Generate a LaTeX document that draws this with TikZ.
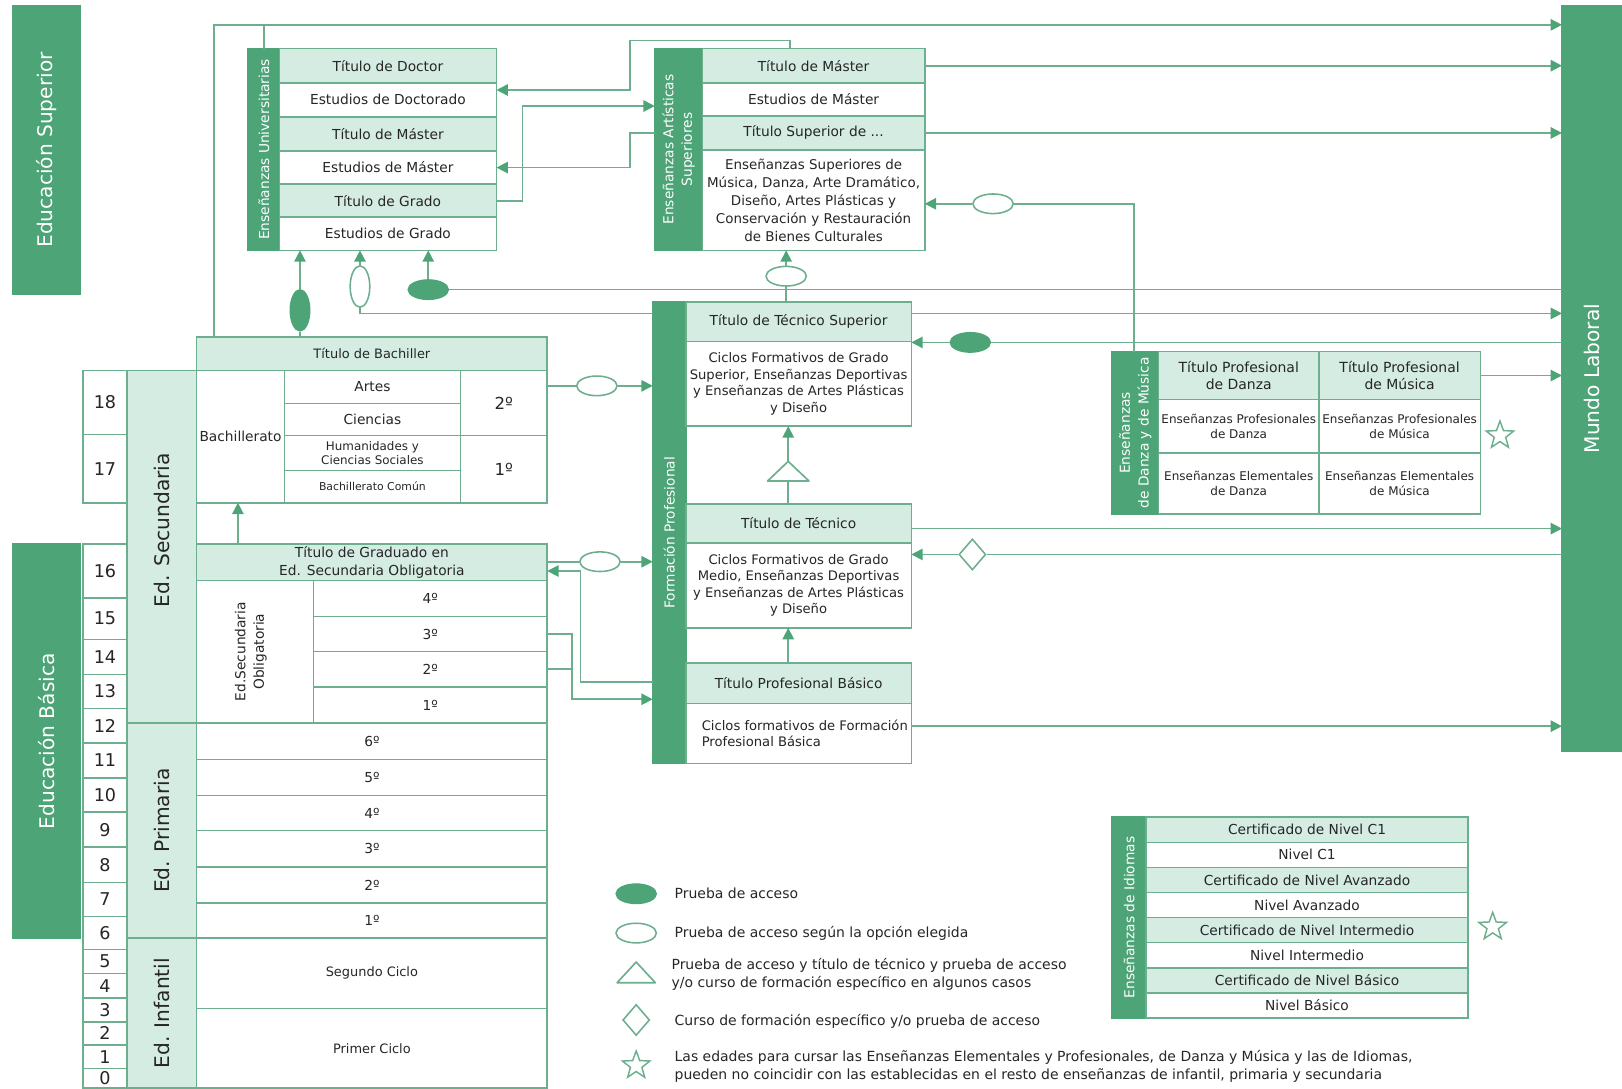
\documentclass[tikz,border=0pt]{standalone}
\usepackage{fontspec}
\setmainfont{DejaVu Sans}
\usetikzlibrary{shapes.geometric,arrows.meta,calc}
\definecolor{dkg}{HTML}{4DA476}
\definecolor{ltg}{HTML}{D4ECE1}
\definecolor{lnc}{HTML}{6CAE8D}
\definecolor{txc}{HTML}{262626}
\newcommand\cellbox[8]{%
  \pgfmathsetmacro\mycw{#4-#2}%
  \pgfmathsetmacro\mych{#5-#3}%
  \node[cell,#6,minimum width=\mycw pt,minimum height=\mych pt] (#1) at (#2,#3) {};
  \node[txt,#7] (#1t) at (#1.center) {#8};}
\tikzset{
  cell/.style={draw=lnc, line width=1.5pt, inner sep=0pt, outer sep=0pt, anchor=north west, fill=white},
  lt/.style={fill=ltg},
  dk/.style={fill=dkg, draw=dkg},
  txt/.style={inner sep=0pt, align=center, text=txc},
  wt/.style={text=white},
  vt/.style={rotate=90},
  f13/.style={font=\fontsize{13.3}{17}\selectfont},
  f12/.style={font=\fontsize{12.5}{15}\selectfont},
  f115/.style={font=\fontsize{11.5}{14}\selectfont},
  f105/.style={font=\fontsize{10.5}{13}\selectfont},
  f16/.style={font=\fontsize{16}{19}\selectfont},
  fed/.style={font=\fontsize{19.5}{22}\selectfont},
  fage/.style={font=\fontsize{17}{20}\selectfont},
  fbar/.style={font=\fontsize{19.5}{22}\selectfont},
  ffp/.style={font=\fontsize{12.7}{16}\selectfont},
  fas/.style={font=\fontsize{13}{17.3}\selectfont},
  fdh/.style={font=\fontsize{13.5}{17}\selectfont},
  fdr/.style={font=\fontsize{11.6}{15}\selectfont},
  fid/.style={font=\fontsize{13.3}{16}\selectfont},
  fleg/.style={font=\fontsize{13.5}{17}\selectfont},
  fv2/.style={font=\fontsize{13.3}{18}\selectfont},
  conn/.style={draw=lnc, line width=1.6pt},
  arr/.style={conn, -{Triangle[length=11pt,width=11pt,fill=dkg,color=dkg]}},
  fel/.style={ellipse, draw=dkg, fill=dkg, line width=1.2pt, inner sep=0pt, minimum width=39pt, minimum height=19pt},
  hel/.style={ellipse, draw=lnc, fill=white, line width=1.5pt, inner sep=0pt, minimum width=39pt, minimum height=19pt},
  vel/.style={minimum width=19pt, minimum height=40pt},
  dm/.style={diamond, draw=lnc, fill=white, line width=1.5pt, inner sep=0pt, minimum width=26pt, minimum height=30pt},
  st/.style={star, star points=5, star point ratio=2.4, draw=lnc, fill=white, line width=1.4pt, inner sep=0pt, minimum size=28pt}
}
\begin{document}
\begin{tikzpicture}[x=1pt,y=-1pt]
\useasboundingbox (0,0) rectangle (1568,1052);
% big bars
\cellbox{supbar}{12}{6}{78}{284}{dk}{wt,vt,fbar}{Educación Superior}
\cellbox{basbar}{12}{526}{78}{907}{dk}{wt,vt,fbar}{Educación Básica}
\cellbox{mundo}{1510}{6}{1568}{726}{dk}{wt,vt,fbar}{Mundo Laboral}
% ages
\foreach \n/\a/\b in {18/358/420,17/420/486,16/526/578,15/578/618,14/618/652,13/652/685,12/685/718,11/718/752,10/752/785,9/785/819,8/819/853,7/853/886,6/886/918,5/918/941,4/941/965,3/965/988,2/988/1010,1/1010/1033,0/1033/1052}{\cellbox{age\n}{80}{\a}{123}{\b}{}{fage}{\n}}
% stage columns
\cellbox{secbar}{123}{358}{190}{699}{lt}{yshift=16pt,vt,fed}{Ed. Secundaria}
\cellbox{pribar}{123}{699}{190}{907}{lt}{vt,fed}{Ed. Primaria}
\cellbox{infbar}{123}{907}{190}{1052}{lt}{vt,fed}{Ed. Infantil}
% bachillerato
\cellbox{bachh}{190}{326}{529}{358}{lt}{f12}{Título de Bachiller}
\cellbox{bachL}{190}{358}{275}{486}{}{f13}{Bachillerato}
\cellbox{artes}{275}{358}{445}{390}{}{f13}{Artes}
\cellbox{cien}{275}{390}{445}{421}{}{f13}{Ciencias}
\cellbox{hum}{275}{421}{445}{455}{}{f115}{Humanidades y\\Ciencias Sociales}
\cellbox{comun}{275}{455}{445}{486}{}{f105}{Bachillerato Común}
\cellbox{b2}{445}{358}{529}{421}{}{f16}{2º}
\cellbox{b1}{445}{421}{529}{486}{}{f16}{1º}
% ESO
\cellbox{esoh}{190}{526}{529}{561}{lt}{f13}{Título de Graduado en\\Ed. Secundaria Obligatoria}
\cellbox{esoL}{190}{561}{303}{699}{}{xshift=-4pt,vt,fv2}{Ed.Secundaria\\Obligatoria}
\cellbox{e4}{303}{561}{529}{596}{}{f13}{4º}
\cellbox{e3}{303}{596}{529}{630}{}{f13}{3º}
\cellbox{e2}{303}{630}{529}{664}{}{f13}{2º}
\cellbox{e1}{303}{664}{529}{699}{}{f13}{1º}
% primaria / infantil
\cellbox{p6}{190}{699}{529}{734}{}{f13}{6º}
\cellbox{p5}{190}{734}{529}{769}{}{f13}{5º}
\cellbox{p4}{190}{769}{529}{803}{}{f13}{4º}
\cellbox{p3}{190}{803}{529}{838}{}{f13}{3º}
\cellbox{p2}{190}{838}{529}{873}{}{f13}{2º}
\cellbox{p1}{190}{873}{529}{907}{}{f13}{1º}
\cellbox{seg}{190}{907}{529}{975}{}{f12}{Segundo Ciclo}
\cellbox{pci}{190}{975}{529}{1052}{}{f12}{Primer Ciclo}
% university
\cellbox{ubar}{240}{47}{270}{242}{dk}{wt,vt,f13}{Enseñanzas Universitarias}
\cellbox{udoc}{270}{47}{480}{80}{lt}{f13}{Título de Doctor}
\cellbox{uedoc}{270}{80}{480}{113}{}{f13}{Estudios de Doctorado}
\cellbox{umas}{270}{113}{480}{146}{lt}{f13}{Título de Máster}
\cellbox{uemas}{270}{146}{480}{178}{}{f13}{Estudios de Máster}
\cellbox{ugra}{270}{178}{480}{210}{lt}{f13}{Título de Grado}
\cellbox{uegra}{270}{210}{480}{242}{}{f13}{Estudios de Grado}
% artistic
\cellbox{abar}{633}{47}{679}{242}{dk}{wt,vt,fv2}{Enseñanzas Artísticas\\Superiores}
\cellbox{amas}{679}{47}{894}{80}{lt}{f13}{Título de Máster}
\cellbox{aemas}{679}{80}{894}{112}{}{f13}{Estudios de Máster}
\cellbox{asup}{679}{112}{894}{145}{lt}{f13}{Título Superior de ...}
\cellbox{aens}{679}{145}{894}{242}{}{fas}{Enseñanzas Superiores de\\Música, Danza, Arte Dramático,\\Diseño, Artes Plásticas y\\Conservación y Restauración\\de Bienes Culturales}
% FP
\cellbox{fpbar}{631}{292}{663}{738}{dk}{wt,vt,f13}{Formación Profesional}
\cellbox{fpts}{663}{292}{881}{330}{lt}{f13}{Título de Técnico Superior}
\cellbox{fpcs}{663}{330}{881}{412}{}{ffp}{Ciclos Formativos de Grado\\Superior, Enseñanzas Deportivas\\y Enseñanzas de Artes Plásticas\\y Diseño}
\cellbox{fpt}{663}{487}{881}{525}{lt}{f13}{Título de Técnico}
\cellbox{fpcm}{663}{525}{881}{607}{}{ffp}{Ciclos Formativos de Grado\\Medio, Enseñanzas Deportivas\\y Enseñanzas de Artes Plásticas\\y Diseño}
\cellbox{fpb}{663}{641}{881}{680}{lt}{f13}{Título Profesional Básico}
\cellbox{fpcb}{663}{680}{881}{738}{}{ffp,align=left,xshift=6pt}{Ciclos formativos de Formación\\Profesional Básica}
% danza y musica
\cellbox{dbar}{1075}{340}{1120}{497}{dk}{wt,vt,fv2}{Enseñanzas\\de Danza y de Música}
\cellbox{dtd}{1120}{340}{1275}{386}{lt}{fdh}{Título Profesional\\de Danza}
\cellbox{dtm}{1275}{340}{1431}{386}{lt}{fdh}{Título Profesional\\de Música}
\cellbox{dpd}{1120}{386}{1275}{438}{}{fdr}{Enseñanzas Profesionales\\de Danza}
\cellbox{dpm}{1275}{386}{1431}{438}{}{fdr}{Enseñanzas Profesionales\\de Música}
\cellbox{ded}{1120}{438}{1275}{497}{}{fdr}{Enseñanzas Elementales\\de Danza}
\cellbox{dem}{1275}{438}{1431}{497}{}{fdr}{Enseñanzas Elementales\\de Música}
% idiomas
\cellbox{ibar}{1075}{790}{1108}{984}{dk}{wt,vt,f13}{Enseñanzas de Idiomas}
\cellbox{i1}{1108}{790}{1419}{814.25}{lt}{fid}{Certificado de Nivel C1}
\cellbox{i2}{1108}{814.25}{1419}{838.5}{}{fid}{Nivel C1}
\cellbox{i3}{1108}{838.5}{1419}{862.75}{lt}{fid}{Certificado de Nivel Avanzado}
\cellbox{i4}{1108}{862.75}{1419}{887}{}{fid}{Nivel Avanzado}
\cellbox{i5}{1108}{887}{1419}{911.25}{lt}{fid}{Certificado de Nivel Intermedio}
\cellbox{i6}{1108}{911.25}{1419}{935.5}{}{fid}{Nivel Intermedio}
\cellbox{i7}{1108}{935.5}{1419}{959.75}{lt}{fid}{Certificado de Nivel Básico}
\cellbox{i8}{1108}{959.75}{1419}{984}{}{fid}{Nivel Básico}
% symbols on connectors
\node[fel,vel] (pa1) at (290,300) {};
\node[hel,vel] (pb1) at (348,277) {};
\node[fel] (pa2) at (414,280) {};
\node[hel] (pb2) at (760,267) {};
\node[hel] (pb3) at (960,197) {};
\node[fel] (pa3) at (938,331) {};
\node[hel] (pb4) at (577,373) {};
\node[hel] (pb5) at (580,543) {};
\node[dm] (dm1) at (940,536) {};
\coordinate (tr1) at (762,456);
\node[st] (st1) at (1450,421) {};
\node[st] (st2) at (1443,896) {};
% helper coordinates
\coordinate (topL) at (207,24);
\coordinate (k1) at (609,39);
\coordinate (k2) at (505,102.5);
\coordinate (k3) at (609,128.5);
\coordinate (k4) at (348,303);
\coordinate (k5) at (1096,197);
\coordinate (k6) at ($(fpts.north east)+(0,11)$);
\coordinate (k7) at (561,659);
\coordinate (k8) at (553,676);
\coordinate (k9) at ($(fpt.north east)+(0,24)$);
\coordinate (k10) at ($(fpcb.north east)+(0,22)$);
% connectors
\draw[arr] ($(bachh.north west)+(17,0)$) -- (topL) -- (topL -| mundo.west);
\draw[conn] (ubar.north) -- (ubar.north |- topL);
\draw[arr] ($(amas.north west)+(85,0)$) |- (k1) |- ($(uedoc.north east)+(0,7)$);
\draw[arr] (ugra.east) -| (k2) -- (k2 -| abar.west);
\draw[arr] (k3 -| abar.west) -- (k3) |- (uemas.east);
\draw[conn] ($(bachh.north west)+(100,0)$) -- (pa1);
\draw[arr] (pa1) -- (pa1 |- uegra.south);
\draw[conn] (k4 -| fpbar.west) -- (k4) -- (pb1);
\draw[arr] (pb1) -- (pb1 |- uegra.south);
\draw[conn] (mundo.west |- pa2) -- (pa2);
\draw[arr] (pa2) -- (pa2 |- uegra.south);
\draw[conn] (fpts.north -| pb2) -- (pb2);
\draw[arr] (pb2) -- (pb2 |- aens.south);
\draw[conn] (dbar.north -| k5) -- (k5) -- (pb3);
\draw[arr] (pb3) -- (pb3 -| aens.east);
\draw[arr] (amas.east) -- (amas.east -| mundo.west);
\draw[arr] (asup.east) -- (asup.east -| mundo.west);
\draw[arr] (k6) -- (k6 -| mundo.west);
\draw[conn] (mundo.west |- pa3) -- (pa3);
\draw[arr] (pa3) -- (pa3 -| fpts.east);
\draw[arr] (dtm.east) -- (dtm.east -| mundo.west);
\draw[conn] (b2.east |- pb4) -- (pb4);
\draw[arr] (pb4) -- (pb4 -| fpbar.west);
\draw[conn] (esoh.east |- pb5) -- (pb5);
\draw[arr] (pb5) -- (pb5 -| fpbar.west);
\draw[arr] (k7 -| fpbar.west) -- (k7) |- ($(esoh.south east)+(0,-9)$);
\draw[arr] (e3.east) -| (k8) -- (k8 -| fpbar.west);
\draw[conn] (e2.east) -- (e2.east -| k8);
\draw[arr] ($(esoh.north west)+(40,0)$) -- ($(bachL.south west)+(40,0)$);
\draw[conn] (fpt.north -| tr1) -- ($(tr1)+(0,9)$);
\draw[arr] ($(tr1)+(0,-10)$) -- (tr1 |- fpcs.south);
\draw[conn,fill=white,line join=round] ($(tr1)+(-20,9)$) -- ($(tr1)+(20,9)$) -- ($(tr1)+(0,-10)$) -- cycle;
\draw[arr] (fpb.north -| tr1) -- (fpcm.south -| tr1);
\draw[arr] (k9) -- (k9 -| mundo.west);
\draw[conn] (mundo.west |- dm1) -- (dm1);
\draw[arr] (dm1) -- (dm1 -| fpcm.east);
\draw[arr] (k10) -- (k10 -| mundo.west);
% legend
\node[fel] (lpa) at (615,864) {};
\node[hel] (lpb) at (615,902) {};
\coordinate (ltr) at (615,940);
\draw[conn,fill=white,line join=round] ($(ltr)+(-18.5,10)$) -- ($(ltr)+(18.5,10)$) -- ($(ltr)+(0,-10)$) -- cycle;
\node[dm] (ldm) at (615,986) {};
\node[st] (lst) at (615,1030) {};
\node[txt,fleg,anchor=west,align=left] (lt1) at (652,864) {Prueba de acceso};
\node[txt,fleg,anchor=west,align=left] (lt2) at (652,902) {Prueba de acceso según la opción elegida};
\node[txt,fleg,anchor=west,align=left] (lt3) at (649,942) {Prueba de acceso y título de técnico y prueba de acceso\\y/o curso de formación específico en algunos casos};
\node[txt,fleg,anchor=west,align=left] (lt4) at (652,987) {Curso de formación específico y/o prueba de acceso};
\node[txt,fleg,anchor=west,align=left] (lt5) at (652,1031) {Las edades para cursar las Enseñanzas Elementales y Profesionales, de Danza y Música y las de Idiomas,\\pueden no coincidir con las establecidas en el resto de enseñanzas de infantil, primaria y secundaria};
\end{tikzpicture}
\end{document}
